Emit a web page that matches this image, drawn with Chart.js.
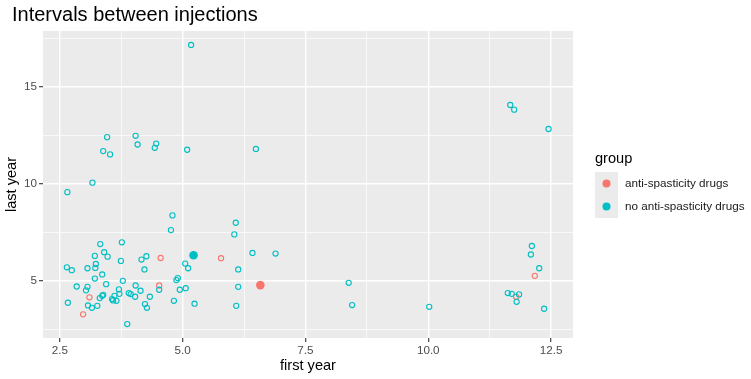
<!DOCTYPE html>
<html><head><meta charset="utf-8">
<script src="https://cdn.jsdelivr.net/npm/chart.js@4/dist/chart.umd.min.js"></script>
<style>html,body{margin:0;padding:0;background:#fff;}canvas{display:block;}</style>
</head><body>
<canvas id="c" width="751" height="379"></canvas>
<script>
const chartTitle = 'Intervals between injections';
const xTitle = 'first year';
const yTitle = 'last year';
const legendTitle = 'group';
const groups = ['anti-spasticity drugs', 'no anti-spasticity drugs'];

const xTickValues = [2.5, 5, 7.5, 10, 12.5];
const xTickLabels = ['2.5', '5.0', '7.5', '10.0', '12.5'];
const xMinorValues = [3.75, 6.25, 8.75, 11.25];
const yTickValues = [5, 10, 15];
const yTickLabels = ['5', '10', '15'];
const yMinorValues = [2.5, 7.5, 12.5, 17.5];

const antiX = [4.55, 5.78, 4.52, 3.10, 2.97, 12.17, 11.79];
const antiY = [6.17, 6.16, 4.75, 4.14, 3.26, 5.25, 4.17];

const noAntiX = [5.17, 3.46, 4.04, 4.08, 4.46, 4.43, 3.38, 3.52, 5.09, 6.49,
  3.16, 2.65, 4.79, 4.76, 6.08, 6.05, 3.32, 3.76, 3.40, 3.21,
  3.47, 4.26, 4.16, 3.74, 2.64, 2.74, 3.06, 3.22, 3.23, 4.22,
  5.05, 5.11, 6.13, 3.36, 3.21, 3.78, 4.90, 4.87, 3.44, 2.84,
  3.06, 3.03, 4.04, 4.52, 3.70, 4.14, 5.06, 4.94, 6.13, 3.31,
  3.36, 3.38, 3.56, 3.61, 3.65, 3.71, 3.90, 3.94, 4.03, 4.33,
  2.66, 3.07, 3.15, 3.26, 4.23, 4.27, 4.82, 5.24, 6.09, 3.87,
  6.42, 6.89, 8.38, 8.45, 11.67, 11.75, 12.45, 12.11, 12.09, 12.26,
  11.62, 11.70, 11.85, 11.80, 12.36, 10.02, 3.58];
const noAntiY = [17.17, 12.41, 12.48, 12.03, 12.08, 11.86, 11.69, 11.52, 11.76, 11.80,
  10.06, 9.57, 8.37, 7.61, 7.99, 7.39, 6.89, 6.98, 6.47, 6.28,
  6.24, 6.26, 6.09, 6.02, 5.69, 5.54, 5.64, 5.66, 5.86, 5.58,
  5.88, 5.64, 5.58, 5.32, 5.11, 4.99, 5.13, 5.03, 4.82, 4.70,
  4.68, 4.50, 4.75, 4.53, 4.55, 4.48, 4.61, 4.53, 4.68, 4.10,
  4.22, 4.27, 4.05, 4.22, 3.96, 4.32, 4.36, 4.31, 4.17, 4.17,
  3.86, 3.72, 3.60, 3.70, 3.79, 3.60, 3.96, 3.81, 3.70, 2.76,
  6.43, 6.40, 4.89, 3.74, 14.07, 13.83, 12.83, 6.79, 6.35, 5.64,
  4.36, 4.32, 4.29, 3.91, 3.55, 3.65, 3.98];

const meanX = [6.58, 5.22];
const meanY = [4.77, 6.31];

const groupColors = ['#F8766D', '#00BFC4'];

const toPoints = (xs, ys) => xs.map((x, i) => ({x: x, y: ys[i]}));
const FONT = "'Liberation Sans', Arial, Helvetica, sans-serif";

const panelBg = {
  id: 'panelBg',
  beforeDraw(chart) {
    const {ctx, chartArea: a} = chart;
    ctx.save();
    ctx.fillStyle = '#EBEBEB';
    ctx.fillRect(a.left, a.top, a.right - a.left, a.bottom - a.top);
    ctx.restore();
  }
};

const ggLegend = {
  id: 'ggLegend',
  afterDraw(chart) {
    const ctx = chart.ctx;
    const a = chart.chartArea;
    const x0 = a.right + 22;
    ctx.save();
    ctx.fillStyle = '#000';
    ctx.font = '14.6px ' + FONT;
    ctx.textBaseline = 'middle';
    ctx.textAlign = 'left';
    ctx.fillText(legendTitle, x0, 159);
    const keyTop = 172, keySize = 23;
    groups.forEach((g, i) => {
      const ky = keyTop + i * keySize;
      ctx.fillStyle = '#EBEBEB';
      ctx.fillRect(x0, ky, keySize, keySize);
      ctx.beginPath();
      ctx.arc(x0 + keySize / 2, ky + keySize / 2, 4, 0, Math.PI * 2);
      ctx.fillStyle = groupColors[i];
      ctx.fill();
      ctx.fillStyle = '#1A1A1A';
      ctx.font = '11.7px ' + FONT;
      ctx.fillText(g, x0 + keySize + 7, ky + keySize / 2 + 0.5);
    });
    ctx.restore();
  }
};

function gridOpts(majors) {
  return {
    color: '#FFFFFF',
    lineWidth: c => majors.includes(c.tick && c.tick.value) ? 1.4 : 0.7,
    tickColor: c => majors.includes(c.tick && c.tick.value) ? '#333333' : 'rgba(0,0,0,0)',
    tickWidth: 1.1,
    tickLength: 4,
    drawTicks: true
  };
}

new Chart(document.getElementById('c'), {
  type: 'scatter',
  data: {
    datasets: [
      {label: groups[1], data: toPoints(noAntiX, noAntiY), borderColor: groupColors[1], backgroundColor: 'rgba(0,0,0,0)', pointRadius: 2.6, borderWidth: 1.1},
      {label: groups[0], data: toPoints(antiX, antiY), borderColor: groupColors[0], backgroundColor: 'rgba(0,0,0,0)', pointRadius: 2.6, borderWidth: 1.1},
      {label: groups[0] + ' (mean)', data: [{x: meanX[0], y: meanY[0]}], borderColor: groupColors[0], backgroundColor: groupColors[0], pointRadius: 4.3, borderWidth: 0},
      {label: groups[1] + ' (mean)', data: [{x: meanX[1], y: meanY[1]}], borderColor: groupColors[1], backgroundColor: groupColors[1], pointRadius: 4.3, borderWidth: 0}
    ]
  },
  options: {
    responsive: false,
    animation: false,
    events: [],
    devicePixelRatio: 1,
    layout: {padding: {left: 12, right: 178, top: 0, bottom: 0}},
    plugins: {
      legend: {display: false},
      tooltip: {enabled: false},
      title: {
        display: true, text: chartTitle, align: 'start', color: '#000',
        font: {family: FONT, size: 20, weight: 'normal', lineHeight: 1.2},
        padding: {top: 3, bottom: 4}
      }
    },
    scales: {
      x: {
        type: 'linear', min: 2.154, max: 12.948,
        afterBuildTicks: s => { s.ticks = xTickValues.concat(xMinorValues).sort((p, q) => p - q).map(v => ({value: v})); },
        afterFit: s => { s.height = 41; },
        ticks: {
          autoSkip: false, maxRotation: 0, padding: 2, color: '#4D4D4D',
          font: {family: FONT, size: 11.7},
          callback: v => { const i = xTickValues.indexOf(v); return i >= 0 ? xTickLabels[i] : ''; }
        },
        grid: gridOpts(xTickValues),
        border: {display: false},
        title: {display: true, text: xTitle, color: '#000', font: {family: FONT, size: 14.6}, padding: {top: 0, bottom: 4.6}}
      },
      y: {
        type: 'linear', min: 2.04, max: 17.89,
        afterBuildTicks: s => { s.ticks = yTickValues.concat(yMinorValues).sort((p, q) => p - q).map(v => ({value: v})); },
        afterFit: s => { s.width = 31; },
        ticks: {
          autoSkip: false, padding: 2, color: '#4D4D4D',
          font: {family: FONT, size: 11.7},
          callback: v => { const i = yTickValues.indexOf(v); return i >= 0 ? yTickLabels[i] : ''; }
        },
        grid: gridOpts(yTickValues),
        border: {display: false},
        title: {display: true, text: yTitle, color: '#000', font: {family: FONT, size: 14.6}, padding: {top: -9, bottom: 0}}
      }
    }
  },
  plugins: [panelBg, ggLegend]
});
</script>
</body></html>
